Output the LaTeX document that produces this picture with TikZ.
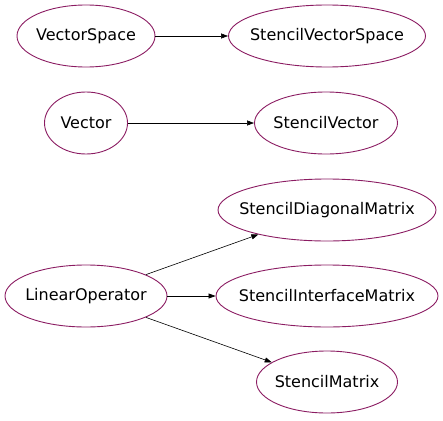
\documentclass[tikz,border=0pt]{standalone}
\usepackage{fontspec}
\setmainfont{DejaVu Sans}
\usetikzlibrary{shapes.geometric,arrows.meta}
\definecolor{nodeline}{RGB}{139,28,98}
\tikzset{
  cls/.style={ellipse, draw=nodeline, line width=0.9pt, inner sep=0pt, minimum height=62pt,
    label={[font=\fontsize{16}{19}\selectfont, text=black]center:#1}},
  edge/.style={draw=black, line width=0.6pt, -{Triangle[length=7pt,width=5pt]}}
}
\begin{document}
\begin{tikzpicture}[x=1pt,y=-1pt]
\useasboundingbox (0,0) rectangle (443,420);
\node[cls=VectorSpace, minimum width=138pt] (vs) at (86,36) {};
\node[cls=StencilVectorSpace, minimum width=197pt] (svs) at (327,36) {};
\node[cls=Vector, minimum width=83pt] (v) at (86,123) {};
\node[cls=StencilVector, minimum width=143pt] (sv) at (326,123) {};
\node[cls=StencilDiagonalMatrix, minimum width=218pt] (sdm) at (327,210) {};
\node[cls=LinearOperator, minimum width=162pt] (lo) at (86,296) {};
\node[cls=StencilInterfaceMatrix, minimum width=222pt] (sim) at (327,296) {};
\node[cls=StencilMatrix, minimum width=141pt] (sm) at (327,382) {};
\draw[edge] (vs) -- (svs);
\draw[edge] (v) -- (sv);
\draw[edge] (lo) -- (sdm);
\draw[edge] (lo) -- (sim);
\draw[edge] (lo) -- (sm);
\end{tikzpicture}
\end{document}
